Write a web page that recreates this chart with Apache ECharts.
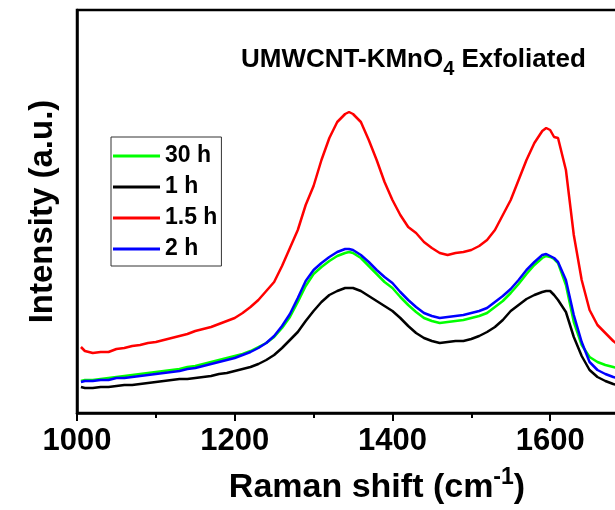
<!DOCTYPE html>
<html>
<head>
<meta charset="utf-8">
<script src="https://cdn.jsdelivr.net/npm/echarts@6/dist/echarts.min.js"></script>
<style>
html,body{margin:0;padding:0;background:#fff;}
#chart{width:615px;height:510px;}
</style>
</head>
<body>
<div id="chart"></div>
<script>
var wavenumbers = [1005,1010,1020,1030,1040,1050,1060,1070,1080,1090,1100,1110,1120,1130,1140,1150,1160,1170,1180,1190,1200,1210,1220,1230,1240,1250,1260,1270,1280,1290,1300,1310,1320,1330,1340,1345,1350,1360,1370,1380,1390,1400,1410,1420,1430,1440,1450,1460,1470,1480,1490,1500,1510,1520,1530,1540,1550,1560,1570,1580,1590,1595,1600,1605,1610,1620,1630,1640,1650,1660,1670,1680,1690,1700];

var green30h = [32,33,33,34,35,36,37,38,39,40,41,42,43,44,46,47,49,51,53,55,57,59,62,66,70,76,85,96,111,127,139,146,152,157,160,161,160,155,147,139,131,125,116,108,101,95,92,90,91,92,93,95,97,100,106,112,120,129,139,148,155,157,156,154,150,128,91,68,56,51,48,46,44,43];

var black1h = [26,25,25,26,26,27,28,28,29,30,31,32,33,34,34,35,36,37,39,40,42,44,46,49,53,58,65,73,81,92,102,111,118,122,125,125,125,122,117,112,107,102,95,87,80,75,72,70,71,72,72,74,77,81,86,93,102,108,114,118,121,122,122,118,113,101,76,57,43,36,32,29,27,26];

var red15h = [66,62,60,61,61,64,65,67,68,70,71,73,75,77,79,82,84,86,89,92,95,100,106,113,122,131,147,165,183,208,227,253,275,291,299,301,299,291,273,253,231,213,198,186,180,171,165,160,158,160,161,163,167,173,183,198,213,233,253,270,282,285,283,276,275,243,178,133,103,88,80,72,66,62];

var blue2h = [31,32,32,33,33,35,35,36,37,38,39,40,41,42,44,45,47,49,51,53,55,58,61,65,70,77,87,99,115,132,143,150,156,161,164,164,163,158,151,143,136,130,121,113,106,100,97,95,96,97,98,100,102,105,111,117,124,133,143,151,158,159,157,155,151,133,98,71,51,43,39,36,34,32];

var seriesNames = ['30 h','1 h','1.5 h','2 h'];
var seriesColors = ['#00ff00','#000000','#ff0000','#0000ff'];
var seriesValues = [green30h, black1h, red15h, blue2h];

var FONT = 'Arial, "Liberation Sans", sans-serif';

function pairs(vals){
  var out = [];
  for (var i = 0; i < wavenumbers.length; i++) out.push([wavenumbers[i], vals[i]]);
  return out;
}

var series = seriesNames.map(function(n, i){
  return {
    name: n, type: 'line', data: pairs(seriesValues[i]),
    symbol: 'none', showSymbol: false,
    lineStyle: {color: seriesColors[i], width: 2.5},
    itemStyle: {color: seriesColors[i]},
    z: 2 + i, animation: false
  };
});

var chart = echarts.init(document.getElementById('chart'), null, {renderer: 'canvas'});
chart.setOption({
  backgroundColor: '#fff',
  animation: false,
  title: {
    left: 236, top: 42,
    text: '{a|UMWCNT-KMnO}{s|4}{a| Exfoliated}',
    textStyle: {
      rich: {
        a: {fontFamily: FONT, fontWeight: 'bold', fontSize: 26, color: '#000', lineHeight: 30, verticalAlign: 'top'},
        s: {fontFamily: FONT, fontWeight: 'bold', fontSize: 20, color: '#000', lineHeight: 20, padding: [12,0,0,0], verticalAlign: 'top'}
      }
    }
  },
  grid: {left: 77, right: -14, top: 10, bottom: 97, show: true, borderColor: '#000', borderWidth: 2.5,
         containLabel: false, outerBoundsMode: 'none'},
  legend: {
    orient: 'vertical', left: 111, top: 137,
    data: seriesNames,
    icon: 'rect',
    itemWidth: 47, itemHeight: 3, itemGap: 7,
    padding: [7, 4, 5, 2],
    borderColor: '#333', borderWidth: 1, backgroundColor: '#fff',
    textStyle: {fontFamily: FONT, fontWeight: 'bold', fontSize: 23, color: '#000', lineHeight: 24}
  },
  xAxis: {
    type: 'value', min: 1000, max: 1700, interval: 200,
    name: '{a|Raman shift (cm}{s|-1}{a|)}',
    nameLocation: 'middle', nameGap: 54,
    nameTextStyle: {
      padding: [0, 0, 0, 48],
      rich: {
        a: {fontFamily: FONT, fontWeight: 'bold', fontSize: 34, color: '#000', lineHeight: 38, verticalAlign: 'bottom'},
        s: {fontFamily: FONT, fontWeight: 'bold', fontSize: 23, color: '#000', lineHeight: 23, padding: [0,0,16,0], verticalAlign: 'bottom'}
      }
    },
    axisLine: {show: true, lineStyle: {color: '#000', width: 2.5}},
    axisTick: {show: true, inside: false, length: 8, lineStyle: {color: '#000', width: 2}},
    minorTick: {show: true, splitNumber: 2, length: 5, lineStyle: {color: '#000', width: 2}},
    axisLabel: {fontFamily: FONT, fontWeight: 'bold', fontSize: 31, color: '#000', margin: 13,
      formatter: function(v){ return v <= 1600 ? String(v) : ''; }},
    splitLine: {show: false}
  },
  yAxis: {
    type: 'value', min: 0, max: 403,
    name: 'Intensity (a.u.)', nameLocation: 'middle', nameGap: 18,
    nameTextStyle: {fontFamily: FONT, fontWeight: 'bold', fontSize: 33, color: '#000'},
    axisLine: {show: true, lineStyle: {color: '#000', width: 2.5}},
    axisTick: {show: false}, axisLabel: {show: false}, splitLine: {show: false}
  },
  series: series
});
</script>
</body>
</html>
